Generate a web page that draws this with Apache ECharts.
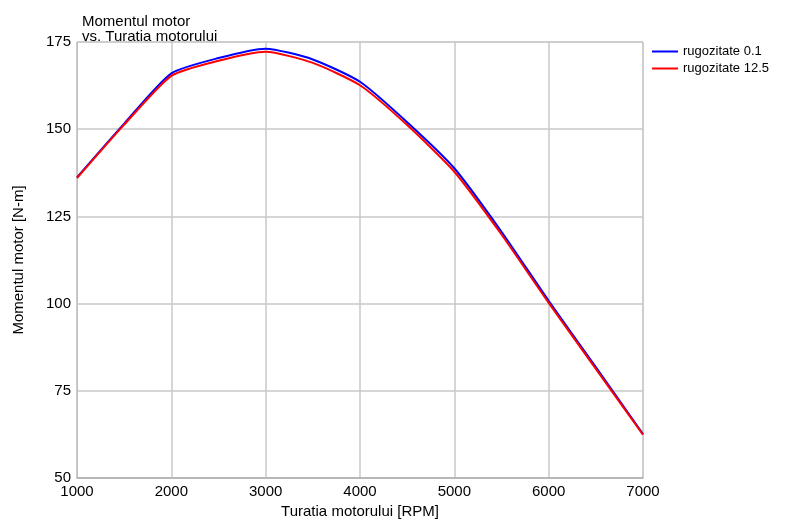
<!DOCTYPE html>
<html>
<head>
<meta charset="utf-8">
<script src="https://cdn.jsdelivr.net/npm/echarts@6/dist/echarts.min.js"></script>
<style>html,body{margin:0;padding:0;background:#fff}#c{width:786px;height:522px}</style>
</head>
<body>
<div id="c"></div>
<script>
const rpm = [1000,1500,2000,2500,3000,3500,4000,4500,5000,5500,6000,6500,7000];
const blueVals = [136.2,151.6,166.0,170.4,173.1,170.0,163.6,152.0,138.8,120.6,100.8,81.8,62.6];
const redVals  = [136.0,151.3,165.3,169.6,172.2,169.0,162.6,151.2,137.8,119.8,100.2,81.3,62.4];
const seriesNames = ['rugozitate 0.1','rugozitate 12.5'];
const xTicks = [1000,2000,3000,4000,5000,6000,7000];
const yTicks = [50,75,100,125,150,175];

const font = 'Liberation Sans, Arial, sans-serif';
const chart = echarts.init(document.getElementById('c'));
chart.setOption({
  animation:false,
  textStyle:{fontFamily:font},
  title:{text:'Momentul motor\nvs. Turatia motorului',left:77,top:9,
    textStyle:{fontSize:15,fontWeight:'normal',color:'#000',lineHeight:15,fontFamily:font}},
  legend:{orient:'vertical',left:647,top:40,itemGap:4,itemWidth:26,itemHeight:2,icon:'rect',
    textStyle:{fontSize:13,color:'#000',fontFamily:font},
    data:seriesNames},
  grid:{left:77,right:143,top:42,bottom:44,show:true,borderColor:'#c0c0c0',borderWidth:1,
    containLabel:false,outerBoundsMode:'none'},
  xAxis:{type:'value',min:xTicks[0],max:xTicks[xTicks.length-1],interval:1000,
    name:'Turatia motorului [RPM]',nameLocation:'middle',nameGap:26,
    nameTextStyle:{fontSize:15,color:'#000',fontFamily:font},
    axisLine:{lineStyle:{color:'#b0b0b0',width:1.5}},axisTick:{show:false},
    axisLabel:{color:'#000',fontSize:15,margin:6,fontFamily:font,formatter:v=>String(v)},
    splitLine:{lineStyle:{color:'#c8c8c8',width:1.5}}},
  yAxis:{type:'value',min:yTicks[0],max:yTicks[yTicks.length-1],interval:25,
    name:'Momentul motor [N-m]',nameLocation:'middle',nameGap:51,
    nameTextStyle:{fontSize:15,color:'#000',fontFamily:font},
    axisLine:{show:true,lineStyle:{color:'#c0c0c0'}},axisTick:{show:false},
    axisLabel:{color:'#000',fontSize:15,margin:6,fontFamily:font},
    splitLine:{lineStyle:{color:'#c8c8c8',width:1.5}}},
  series:[
    {name:seriesNames[0],type:'line',data:rpm.map((x,i)=>[x,blueVals[i]]),
     showSymbol:false,smooth:0.2,lineStyle:{color:'#0000ff',width:2},itemStyle:{color:'#0000ff'},z:3},
    {name:seriesNames[1],type:'line',data:rpm.map((x,i)=>[x,redVals[i]]),
     showSymbol:false,smooth:0.2,lineStyle:{color:'#ff0000',width:2},itemStyle:{color:'#ff0000'},z:4}
  ]
});
</script>
</body>
</html>
